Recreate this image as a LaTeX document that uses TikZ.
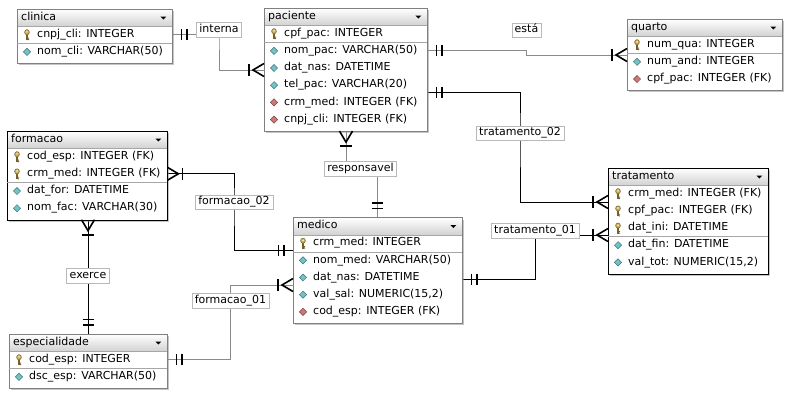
\documentclass[tikz,border=0pt]{standalone}
\usepackage{fontspec}
\setmainfont{DejaVu Sans}
\usetikzlibrary{positioning,calc,shadows,backgrounds}

\definecolor{frame}{HTML}{808080}
\definecolor{relgray}{HTML}{8A8A8A}
\definecolor{headbot}{HTML}{D2D2D2}
\definecolor{keygold}{HTML}{CDAE4E}
\definecolor{attrcyan}{HTML}{70C3C6}
\definecolor{fkred}{HTML}{CF7777}

\tikzset{
  tbl/.style={anchor=north west, inner sep=0pt, fill=white,
    drop shadow={shadow xshift=2pt, shadow yshift=-2pt, fill=black!45, opacity=.5}},
  tblhead/.style={anchor=north, inner sep=0pt, minimum height=17pt,
    top color=white, bottom color=headbot},
  tbltitle/.style={anchor=west, inner sep=0pt, text height=8pt, text depth=2.5pt},
  field/.style={anchor=west, inner sep=0pt, text height=8pt, text depth=2.5pt},
  rellabel/.style={draw=frame!55, fill=white, inner xsep=3pt, inner ysep=2pt,
    text height=8pt, text depth=2.5pt},
  rel/.style={draw=relgray, line width=1pt},
  relsel/.style={draw=black, line width=1pt},
  relmark/.style={draw=black, line width=1.6pt},
  onebar/.pic={\draw[relmark] (9,-5.5) -- (9,5.5) (14.5,-5.5) -- (14.5,5.5);},
  crowfoot/.pic={\draw[relmark] (0,-6.5) -- (11,0) -- (0,6.5);
    \draw[relmark] (15,-6) -- (15,6);},
  pkicon/.pic={\fill[keygold, draw=keygold!55!black, line width=.5pt] (0,-2.4) ellipse (2.4 and 2.6);
    \fill[white] (0,-2.8) circle (0.8);
    \fill[keygold!55!black] (-0.7,-0.1) rectangle (0.7,5.5);
    \fill[keygold!55!black] (0.7,3) rectangle (2,3.9) (0.7,4.6) rectangle (2,5.5);},
  attricon/.pic={\draw[fill=attrcyan, draw=attrcyan!60!black, line width=.5pt]
    (0,-3.6) -- (3.6,0) -- (0,3.6) -- (-3.6,0) -- cycle;},
  fkicon/.pic={\draw[fill=fkred, draw=fkred!60!black, line width=.5pt]
    (0,-3.6) -- (3.6,0) -- (0,3.6) -- (-3.6,0) -- cycle;},
  dropdown/.pic={\fill (-3,-1.2) -- (3,-1.2) -- (0,1.8) -- cycle;}
}

% table frame: name, position, width, rows, title, border colour
\newcommand{\ertable}[6]{%
  \node[tbl, minimum width=#3pt, minimum height={(19.5+#4*17.2)*1pt}] (#1) at #2 {};
  \node[tblhead, minimum width=#3pt] (#1-h) at (#1.north) {};
  \node[tbltitle] (#1-t) at ([xshift=4pt]#1-h.west) {#5};
  \pic at ([xshift=-9pt]#1-h.east) {dropdown};
  \draw[frame!70] (#1-h.south west) -- (#1-h.south east);
  \draw[#6] (#1.north west) rectangle (#1.south east);
}
% one field: table, row, icon, text
\newcommand{\erfield}[4]{%
  \node[field] (#1-#2) at ($(#1.north west)+(20,{17+(#2-.5)*17.2})$) {#4};
  \pic at ([xshift=-10pt]#1-#2.west) {#3};
}
% line under the key fields
\newcommand{\erkeyline}[2]{%
  \draw[frame!70] ($(#1.north west)+(0,{17+#2*17.2})$) -- ($(#1.north east)+(0,{17+#2*17.2})$);
}

\begin{document}
\begin{tikzpicture}[x=1pt, y=-1pt, font=\fontsize{11}{13}\selectfont]
\useasboundingbox (0,0) rectangle (797,407);

% tables
\ertable{clinica}{(17,9)}{155}{2}{clinica}{frame}
\erfield{clinica}{1}{pkicon}{cnpj\_cli: INTEGER}
\erfield{clinica}{2}{attricon}{nom\_cli: VARCHAR(50)}
\erkeyline{clinica}{1}

\ertable{paciente}{(264,8)}{163}{6}{paciente}{frame}
\erfield{paciente}{1}{pkicon}{cpf\_pac: INTEGER}
\erfield{paciente}{2}{attricon}{nom\_pac: VARCHAR(50)}
\erfield{paciente}{3}{attricon}{dat\_nas: DATETIME}
\erfield{paciente}{4}{attricon}{tel\_pac: VARCHAR(20)}
\erfield{paciente}{5}{fkicon}{crm\_med: INTEGER (FK)}
\erfield{paciente}{6}{fkicon}{cnpj\_cli: INTEGER (FK)}
\erkeyline{paciente}{1}

\ertable{quarto}{(627,19)}{155}{3}{quarto}{frame}
\erfield{quarto}{1}{pkicon}{num\_qua: INTEGER}
\erfield{quarto}{2}{attricon}{num\_and: INTEGER}
\erfield{quarto}{3}{fkicon}{cpf\_pac: INTEGER (FK)}
\erkeyline{quarto}{1}

\ertable{formacao}{(7,131)}{160}{4}{formacao}{black}
\erfield{formacao}{1}{pkicon}{cod\_esp: INTEGER (FK)}
\erfield{formacao}{2}{pkicon}{crm\_med: INTEGER (FK)}
\erfield{formacao}{3}{attricon}{dat\_for: DATETIME}
\erfield{formacao}{4}{attricon}{nom\_fac: VARCHAR(30)}
\erkeyline{formacao}{2}

\ertable{medico}{(293,217.5)}{169}{5}{medico}{frame}
\erfield{medico}{1}{pkicon}{crm\_med: INTEGER}
\erfield{medico}{2}{attricon}{nom\_med: VARCHAR(50)}
\erfield{medico}{3}{attricon}{dat\_nas: DATETIME}
\erfield{medico}{4}{attricon}{val\_sal: NUMERIC(15,2)}
\erfield{medico}{5}{fkicon}{cod\_esp: INTEGER (FK)}
\erkeyline{medico}{1}

\ertable{tratamento}{(608,168)}{160}{5}{tratamento}{black}
\erfield{tratamento}{1}{pkicon}{crm\_med: INTEGER (FK)}
\erfield{tratamento}{2}{pkicon}{cpf\_pac: INTEGER (FK)}
\erfield{tratamento}{3}{pkicon}{dat\_ini: DATETIME}
\erfield{tratamento}{4}{attricon}{dat\_fin: DATETIME}
\erfield{tratamento}{5}{attricon}{val\_tot: NUMERIC(15,2)}
\erkeyline{tratamento}{3}

\ertable{especialidade}{(9,334)}{158}{2}{especialidade}{frame}
\erfield{especialidade}{1}{pkicon}{cod\_esp: INTEGER}
\erfield{especialidade}{2}{attricon}{dsc\_esp: VARCHAR(50)}
\erkeyline{especialidade}{1}

% relationship labels
\node[rellabel] (interna) at (219,29.5) {interna};
\node[rellabel] (esta) at (526.5,30) {está};
\node[rellabel] (tratamento02) at (520,133) {tratamento\_02};
\node[rellabel] (responsavel) at (360.5,168.5) {responsavel};
\node[rellabel] (formacao02) at (234,202) {formacao\_02};
\node[rellabel] (tratamento01) at (535,230.5) {tratamento\_01};
\node[rellabel] (exerce) at (88,275.5) {exerce};
\node[rellabel] (formacao01) at (230.5,300.5) {formacao\_01};

% connector ends
\coordinate (paciente-in) at ($(paciente.north west)+(0,62)$);
\coordinate (paciente-out) at ($(paciente.north east)+(0,84)$);
\coordinate (paciente-down) at ($(paciente.south west)+(82,0)$);
\coordinate (quarto-in) at ($(quarto.north west)+(0,36)$);
\coordinate (tratamento-in2) at ($(tratamento.north west)+(0,34)$);
\coordinate (tratamento-in1) at ($(tratamento.north west)+(0,67)$);
\coordinate (medico-out) at ($(medico.north east)+(0,61.5)$);
\coordinate (medico-in2) at ($(medico.north west)+(0,32.5)$);
\coordinate (medico-in1) at ($(medico.north west)+(0,67.5)$);
\coordinate (medico-up) at ($(medico.north west)+(84,0)$);

\begin{scope}[on background layer]
\fill[white] (0,0) rectangle (797,407);
\draw[rel] (clinica.east |- clinica-1) -| (interna.center) |- (paciente-in);
\draw[rel] (paciente.east |- paciente-2) -| (esta.south |- quarto-in) -- (quarto-in);
\draw[relsel] (paciente-out) -| (tratamento02.center) |- (tratamento-in2);
\draw[relsel] (medico-out) -| (tratamento01.center |- tratamento-in1) -- (tratamento-in1);
\draw[rel] (paciente-down) |- (responsavel.center) -| (medico-up);
\draw[relsel] (formacao.east |- formacao-2) -| (formacao02.center) |- (medico-in2);
\draw[rel] (especialidade.east |- especialidade-1) -| (formacao01.center) |- (medico-in1);
\draw[relsel] (formacao.south -| exerce.center) -- (especialidade.north -| exerce.center);
\end{scope}

% cardinality marks
\pic at (clinica.east |- clinica-1) {onebar};
\pic[rotate=180] at (paciente-in) {crowfoot};
\pic at (paciente.east |- paciente-2) {onebar};
\pic[rotate=180] at (quarto-in) {crowfoot};
\pic at (paciente-out) {onebar};
\pic[rotate=180] at (tratamento-in2) {crowfoot};
\pic at (medico-out) {onebar};
\pic[rotate=180] at (tratamento-in1) {crowfoot};
\pic[rotate=-90] at (paciente-down) {crowfoot};
\pic[rotate=90] at (medico-up) {onebar};
\pic at (formacao.east |- formacao-2) {crowfoot};
\pic[rotate=180] at (medico-in2) {onebar};
\pic at (especialidade.east |- especialidade-1) {onebar};
\pic[rotate=180] at (medico-in1) {crowfoot};
\pic[rotate=-90] at (formacao.south -| exerce.center) {crowfoot};
\pic[rotate=90] at (especialidade.north -| exerce.center) {onebar};
\end{tikzpicture}
\end{document}
